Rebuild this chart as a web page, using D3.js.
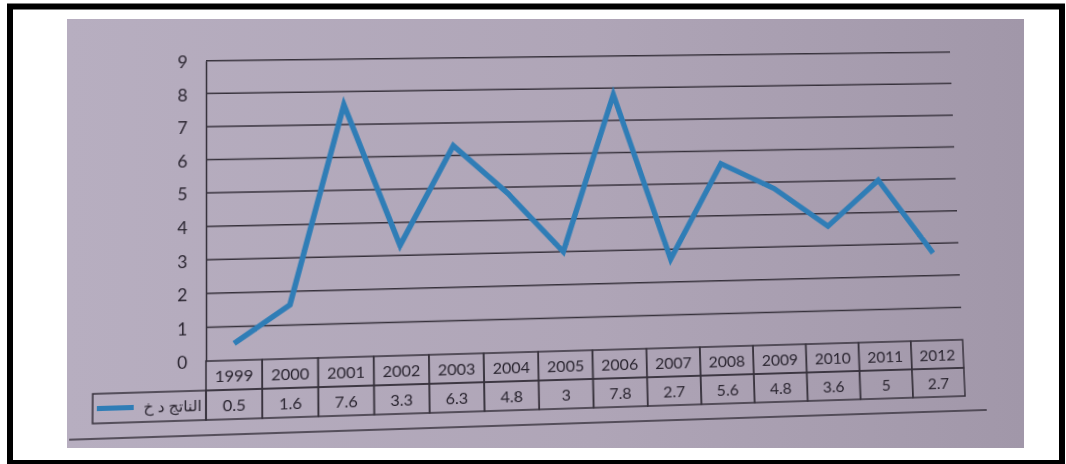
<!DOCTYPE html>
<html>
<head>
<meta charset="utf-8">
<script src="https://cdn.jsdelivr.net/npm/d3@7"></script>
<style>
  body { margin: 0; background: #fff; }
  #bg, #chart { position: absolute; left: 0; top: 0; }
  #chart { transform-origin: 0 0; }
  text { font-family: Lato, "DejaVu Sans", sans-serif; fill: #2a2530; }
</style>
</head>
<body>
<svg id="bg" width="1066" height="464"></svg>
<svg id="chart" width="1066" height="464"></svg>
<script>
var years = ['1999', '2000', '2001', '2002', '2003', '2004', '2005',
             '2006', '2007', '2008', '2009', '2010', '2011', '2012'];
var gdp = [0.5, 1.6, 7.6, 3.3, 6.3, 4.8, 3, 7.8, 2.7, 5.6, 4.8, 3.6, 5, 2.7];
var gdpLabels = ['0.5', '1.6', '7.6', '3.3', '6.3', '4.8', '3', '7.8', '2.7', '5.6', '4.8', '3.6', '5', '2.7'];
var yTicks = [0, 1, 2, 3, 4, 5, 6, 7, 8, 9];
var seriesName = 'الناتج د خ';

// ---- background: white page, black frame, the photo area
var bg = d3.select('#bg');
var grad = bg.append('defs').append('linearGradient').attr('id', 'paper');
grad.append('stop').attr('offset', '0%').attr('stop-color', '#b7aec0');
grad.append('stop').attr('offset', '55%').attr('stop-color', '#afa5b7');
grad.append('stop').attr('offset', '100%').attr('stop-color', '#a197a9');

bg.append('rect')
  .attr('x', 67).attr('y', 19).attr('width', 957).attr('height', 429)
  .style('fill', 'url(#paper)');
bg.append('rect')
  .attr('x', 10).attr('y', 6.5).attr('width', 1052).attr('height', 456.5)
  .style('fill', 'none').style('stroke', '#000').style('stroke-width', 6);

// ---- the chart, drawn flat, then tilted like the photo
var svg = d3.select('#chart');
var left = 206, right = 965, top9 = 60.7, base = 363, rowH = 29;

var x = d3.scaleBand().domain(years).range([left, right]);
var y = d3.scaleLinear().domain([0, 9]).range([base, top9]);

var ink = '#36313b';

// grid lines
svg.append('g').selectAll('line')
  .data(yTicks.slice(1))
  .enter().append('line')
  .attr('x1', left).attr('x2', right)
  .attr('y1', function(d) { return y(d); })
  .attr('y2', function(d) { return y(d); })
  .style('stroke', ink).style('stroke-width', 1.5);

// y axis
var yAxis = svg.append('g')
  .attr('transform', 'translate(' + left + ',0)')
  .call(d3.axisLeft(y).tickValues(yTicks).tickSize(0).tickPadding(18));
yAxis.select('.domain').style('stroke', ink).style('stroke-width', 1.5);
yAxis.selectAll('text')
  .attr('font-size', 17).attr('font-family', 'Lato, sans-serif')
  .attr('fill', '#2a2530').attr('dy', '0.4em');

// data table
var table = svg.append('g');
var rowYears = base, rowVals = base + rowH, rowEnd = base + 2 * rowH;

table.selectAll('.yr')
  .data(years).enter().append('rect')
  .attr('x', function(d) { return x(d); })
  .attr('y', rowYears)
  .attr('width', x.bandwidth()).attr('height', rowH)
  .style('fill', 'none').style('stroke', ink).style('stroke-width', 1.5);

table.selectAll('.val')
  .data(years).enter().append('rect')
  .attr('x', function(d) { return x(d); })
  .attr('y', rowVals)
  .attr('width', x.bandwidth()).attr('height', rowH)
  .style('fill', 'none').style('stroke', ink).style('stroke-width', 1.5);

table.append('rect')
  .attr('x', 98).attr('y', rowVals)
  .attr('width', left - 98).attr('height', rowH)
  .style('fill', 'none').style('stroke', ink).style('stroke-width', 1.5);

table.selectAll('.yrText')
  .data(years).enter().append('svg:text')
  .attr('x', function(d) { return x(d) + x.bandwidth() / 2; })
  .attr('y', rowYears + rowH / 2)
  .attr('dy', '0.38em')
  .attr('text-anchor', 'middle')
  .attr('font-size', 16)
  .text(function(d) { return d; });

table.selectAll('.valText')
  .data(gdpLabels).enter().append('svg:text')
  .attr('x', function(d, i) { return x(years[i]) + x.bandwidth() / 2; })
  .attr('y', rowVals + rowH / 2)
  .attr('dy', '0.42em')
  .attr('text-anchor', 'middle')
  .attr('font-size', 16)
  .text(function(d) { return d; });

// legend key inside the table
table.append('line')
  .attr('x1', 102).attr('x2', 137)
  .attr('y1', rowVals + rowH / 2).attr('y2', rowVals + rowH / 2)
  .style('stroke', '#2f7db6').style('stroke-width', 5);
table.append('svg:text')
  .attr('x', 202).attr('y', rowVals + rowH / 2)
  .attr('dy', '0.35em')
  .attr('text-anchor', 'end')
  .attr('font-size', 15)
  .attr('font-family', '"DejaVu Sans", sans-serif')
  .text(seriesName);

// long rule below the table
svg.append('line')
  .attr('x1', 76).attr('x2', 987)
  .attr('y1', rowEnd + 15).attr('y2', rowEnd + 15)
  .style('stroke', ink).style('stroke-width', 1.6);

// the series line
var line = d3.line()
  .x(function(d, i) { return x(years[i]) + x.bandwidth() / 2; })
  .y(function(d) { return y(d); });

svg.append('path')
  .datum(gdp)
  .attr('d', line)
  .style('fill', 'none')
  .style('stroke', '#2f7db6')
  .style('stroke-width', 5.5)
  .style('stroke-linejoin', 'miter');

// ---- tilt: map the flat corners onto the photographed ones
function homography(src, dst) {
  var A = [], b = [];
  for (var i = 0; i < 4; i++) {
    var sx = src[i][0], sy = src[i][1], u = dst[i][0], v = dst[i][1];
    A.push([sx, sy, 1, 0, 0, 0, -u * sx, -u * sy]); b.push(u);
    A.push([0, 0, 0, sx, sy, 1, -v * sx, -v * sy]); b.push(v);
  }
  var n = 8;
  for (var c = 0; c < n; c++) {
    var p = c;
    for (var r = c + 1; r < n; r++) {
      if (Math.abs(A[r][c]) > Math.abs(A[p][c])) p = r;
    }
    var t = A[c]; A[c] = A[p]; A[p] = t;
    var tb = b[c]; b[c] = b[p]; b[p] = tb;
    for (var r2 = c + 1; r2 < n; r2++) {
      var f = A[r2][c] / A[c][c];
      for (var k = c; k < n; k++) A[r2][k] -= f * A[c][k];
      b[r2] -= f * b[c];
    }
  }
  var h = new Array(n);
  for (var i2 = n - 1; i2 >= 0; i2--) {
    var s = b[i2];
    for (var k2 = i2 + 1; k2 < n; k2++) s -= A[i2][k2] * h[k2];
    h[i2] = s / A[i2][i2];
  }
  return h;
}

var h = homography(
  [[left, top9], [right, top9], [left, rowEnd], [right, rowEnd]],
  [[206, 60.7], [950, 52], [206, 420], [965, 396]]
);
var m = [h[0], h[3], 0, h[6], h[1], h[4], 0, h[7], 0, 0, 1, 0, h[2], h[5], 0, 1]
  .map(function(v) { return v.toFixed(10); });
d3.select('#chart').style('transform', 'matrix3d(' + m.join(',') + ')');
</script>
</body>
</html>
